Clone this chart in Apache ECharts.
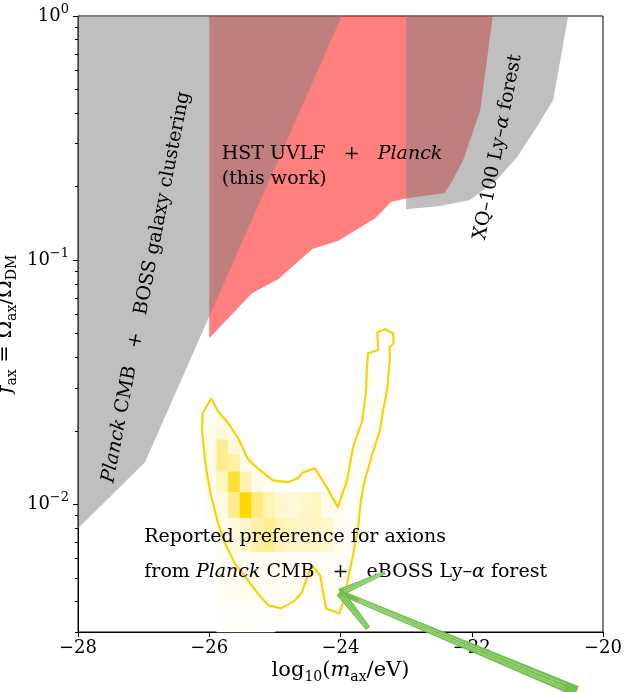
<!DOCTYPE html>
<html><head><meta charset="utf-8">
<script src="https://cdn.jsdelivr.net/npm/echarts@6/dist/echarts.min.js"></script>
<style>html,body{margin:0;padding:0;background:#fff}#c{width:624px;height:692px}</style>
</head><body><div id="c"></div>
<script>
// ---------------- data ----------------
// Planck CMB + BOSS galaxy clustering exclusion (log10 m, f)
const bossM = [-28, -23.98, -26.98, -28];
const bossF = [1, 1, 0.01486, 0.00797];
// HST UVLF + Planck exclusion (this work)
const hstM = [-26.0, -26.0, -25.35, -24.95, -24.43, -24.04, -23.47, -23.23, -22.99, -22.41, -22.29, -22.13, -21.87, -21.68];
const hstF = [1, 0.0479, 0.07325, 0.08359, 0.1110, 0.1197, 0.1486, 0.1729, 0.1795, 0.1882, 0.2128, 0.2570, 0.4119, 1];
// XQ-100 Ly-alpha forest exclusion
const xqM = [-23.0, -23.0, -22.48, -22.03, -21.62, -21.31, -21.01, -20.76, -20.53];
const xqF = [1, 0.1618, 0.1665, 0.1762, 0.2128, 0.2643, 0.3508, 0.4527, 1];
// preferred region contour (Planck CMB + eBOSS Ly-alpha)
const contourM = [-25.97, -25.87, -25.71, -25.56, -25.41, -25.26, -25.03, -24.80, -24.65, -24.57, -24.39, -24.21, -24.04,
  -23.90, -23.81, -23.67, -23.61, -23.60, -23.58, -23.43, -23.43, -23.44, -23.32, -23.20, -23.19, -23.25, -23.25,
  -23.29, -23.35, -23.40, -23.52, -23.63, -23.69, -23.73, -23.81, -23.89, -23.95, -24.02, -24.22, -24.31, -24.42,
  -24.48, -24.59, -24.71, -24.91, -25.10, -25.26, -25.41, -25.61, -25.76, -25.88, -25.99, -26.06, -26.11, -26.10, -25.97];
const contourF = [0.02719, 0.02404, 0.02148, 0.01865, 0.01529, 0.01404, 0.01254, 0.01231, 0.01278, 0.01352, 0.01404, 0.01174, 0.009721,
  0.01254, 0.01713, 0.02189, 0.02933, 0.03540, 0.04158, 0.04277, 0.04568, 0.05068, 0.05214, 0.05022, 0.04568, 0.04399, 0.03892,
  0.02933, 0.02427, 0.02010, 0.01588, 0.01254, 0.01038, 0.008044, 0.006180, 0.004882, 0.004043, 0.003575, 0.003748, 0.005117, 0.005569,
  0.005262, 0.004357, 0.004004, 0.003748, 0.003856, 0.004316, 0.004882, 0.005730, 0.006923, 0.008598, 0.01142, 0.01472, 0.02010, 0.02360, 0.02719];
// 2D histogram bins: log10 m from heatM0 step heatDM, f from heatF0 step heatDF
const heatM0 = -25.887, heatDM = 0.1778;
const heatF0 = 0.00638, heatDF = 0.0024;
// [column, row, density]
const heatCells = [
  [-1,6,0.05],[0,6,0.08],
  [-1,5,0.10],[0,5,0.15],[1,5,0.05],
  [-1,4,0.08],[0,4,0.45],[1,4,0.15],
  [-1,3,0.10],[0,3,0.45],[1,3,0.35],[2,3,0.08],
  [-1,2,0.08],[0,2,0.25],[1,2,0.80],[2,2,0.30],[3,2,0.10],[4,2,0.05],[11,2,0.04],
  [-1,1,0.04],[0,1,0.12],[1,1,0.45],[2,1,1.00],[3,1,0.50],[4,1,0.30],[5,1,0.20],[6,1,0.15],[7,1,0.20],[8,1,0.25],[9,1,0.08],[10,1,0.05],
  [0,0,0.06],[1,0,0.12],[2,0,0.20],[3,0,0.35],[4,0,0.45],[5,0,0.30],[6,0,0.25],[7,0,0.22],[8,0,0.25],[9,0,0.20],[10,0,0.06],[11,0,0.04],
  [0,-1,0.04],[1,-1,0.06],[2,-1,0.06],[3,-1,0.06],[4,-1,0.05],[5,-1,0.04],[6,-1,0.04],[7,-1,0.04],[8,-1,0.04],[9,-1,0.04],[10,-1,0.04],[11,-1,0.03],
  [0,-2,0.02],[1,-2,0.03],[2,-2,0.03],[3,-2,0.02],[4,-2,0.02],
  [12,3,0.04],[12,4,0.05],[13,7,0.06],[13,8,0.05],[13,10,0.06],[13,11,0.04]
];
// arrow: tip and stroke ends
const arrowTipM = -24.01, arrowTipF = 0.004357;
const arrowEndM = [-20.40, -23.32, -23.58];
const arrowEndF = [0.001713, 0.005262, 0.003102];
// text annotations
const annotM = [-26.96, -25.81, -26.99, -21.60];
const annotF = [0.0775, 0.3074, 0.00864, 0.2904];
const annotText = [
  '{i|Planck} CMB   +   BOSS galaxy clustering',
  'HST UVLF   +   {i|Planck}\n(this work)',
  'Reported preference for axions\nfrom {i|Planck} CMB   +   eBOSS Ly\u2013{i|\u03b1} forest',
  'XQ\u2013100 Ly\u2013{i|\u03b1} forest'
];
const yMajor = [0.01, 0.1, 1];
const yMinor = [0.003,0.004,0.005,0.006,0.007,0.008,0.009,0.02,0.03,0.04,0.05,0.06,0.07,0.08,0.09,0.2,0.3,0.4,0.5,0.6,0.7,0.8,0.9];

// ---------------- styling ----------------
const FONT = 'DejaVu Serif';
const FS = 19;
const annotStyle = [
  {rot: 79, align: 'center', va: 'middle', lh: 24},
  {rot: 0, align: 'left', va: 'top', lh: 25},
  {rot: 0, align: 'left', va: 'top', lh: 35},
  {rot: 79, align: 'center', va: 'middle', lh: 24}
];
const arrowWidth = [[2.5, 5.5], [3.8, 1.6], [4.2, 2.6]];

function richSet(base, lh, sub) {
  lh = lh || 26;
  sub = sub || 13;
  return {
    n: {fontFamily: FONT, fontSize: base, color: '#000', lineHeight: lh},
    i: {fontFamily: FONT, fontSize: base, fontStyle: 'italic', color: '#000', lineHeight: lh},
    s: {fontFamily: FONT, fontSize: sub, color: '#000', verticalAlign: 'bottom', lineHeight: sub + 3},
    sup: {fontFamily: FONT, fontSize: sub, color: '#000', verticalAlign: 'top', lineHeight: sub + 1}
  };
}
function heatColor(v) {
  const g = Math.round(255 - v * 40), b = Math.round(255 - v * 255);
  return 'rgb(255,' + g + ',' + b + ')';
}
function polySeries(M, F, fill, opacity) {
  return {
    type: 'custom', silent: true, clip: true,
    data: M.map((m, i) => [m, F[i]]),
    renderItem: (params, api) => {
      if (params.dataIndex !== 0) return null;
      return {type: 'polygon', shape: {points: M.map((m, i) => api.coord([m, F[i]]))},
        style: {fill: fill, opacity: opacity}};
    }
  };
}

const chart = echarts.init(document.getElementById('c'), null, {renderer: 'canvas'});
const option = {
  animation: false,
  backgroundColor: '#fff',
  grid: {left: 78, right: 21, top: 16, bottom: 60, show: true, borderColor: '#000', borderWidth: 1,
    backgroundColor: 'transparent', containLabel: false, outerBoundsMode: 'none'},
  xAxis: {
    type: 'value', min: -28, max: -20, interval: 2,
    axisLine: {show: true, onZero: false, lineStyle: {color: '#000', width: 1}},
    axisTick: {show: true, length: 5, lineStyle: {color: '#000'}},
    axisLabel: {color: '#000', fontFamily: FONT, fontSize: 18, margin: 7,
      formatter: v => (v < 0 ? '\u2212' : '') + Math.abs(v)},
    splitLine: {show: false},
    name: '{n|log}{s|10}{n|(}{i|m}{s|ax}{n|/eV)}',
    nameLocation: 'middle', nameGap: 25, nameMoveOverlap: false,
    nameTextStyle: {rich: richSet(21, 27, 14)}
  },
  yAxis: [{
    type: 'log', logBase: 10, min: 0.003, max: 1,
    axisLine: {show: true, onZero: false, lineStyle: {color: '#000', width: 1}},
    axisTick: {show: true, length: 5, customValues: yMajor, lineStyle: {color: '#000'}},
    axisLabel: {color: '#000', fontFamily: FONT, fontSize: 18, margin: 9, customValues: yMajor,
      rich: richSet(18),
      formatter: v => {
        const e = Math.round(Math.log10(v));
        if (Math.abs(v - Math.pow(10, e)) > 1e-9 * Math.pow(10, e)) return '';
        return '{n|10}{sup|' + (e < 0 ? '\u2212' + (-e) : e) + '}';
      }},
    splitLine: {show: false},
    name: '{i|f}{s|ax}{n| = \u03a9}{s|ax}{n|/\u03a9}{s|DM}',
    nameLocation: 'middle', nameRotate: 90, nameGap: 59, nameMoveOverlap: false,
    nameTextStyle: {rich: richSet(21, 27, 14)}
  }, {
    type: 'log', logBase: 10, min: 0.003, max: 1, position: 'left',
    axisLine: {show: false},
    axisTick: {show: true, length: 3, customValues: yMinor, lineStyle: {color: '#000'}},
    axisLabel: {show: false},
    splitLine: {show: false}
  }],
  series: [
    {
      type: 'custom', silent: true,
      data: heatCells.map(c => [heatM0 + c[0] * heatDM, heatF0 + c[1] * heatDF, c[2]]),
      renderItem: (params, api) => {
        const m = api.value(0), f = api.value(1), v = api.value(2);
        const p0 = api.coord([m, f]);
        const p1 = api.coord([m + heatDM, f + heatDF]);
        const cs = params.coordSys;
        const yb = Math.min(p0[1], cs.y + cs.height);
        const col = heatColor(v);
        return {type: 'rect', shape: {x: p0[0], y: p1[1], width: p1[0] - p0[0], height: yb - p1[1]},
          style: {fill: col, stroke: col, lineWidth: 0.5}};
      }
    },
    {
      type: 'custom', silent: true,
      data: contourM.map((m, i) => [m, contourF[i]]),
      renderItem: (params, api) => {
        if (params.dataIndex !== 0) return null;
        return {type: 'polyline', shape: {points: contourM.map((m, i) => api.coord([m, contourF[i]]))},
          style: {stroke: '#ffd000', lineWidth: 2.2, fill: null, lineJoin: 'round'}};
      }
    },
    polySeries(hstM, hstF, '#ff0000', 0.5),
    polySeries(bossM, bossF, '#808080', 0.5),
    polySeries(xqM, xqF, '#808080', 0.5),
    {
      type: 'custom', silent: true,
      data: annotM.map((m, i) => [m, annotF[i]]),
      renderItem: (params, api) => {
        const i = params.dataIndex, s = annotStyle[i];
        const p = api.coord([api.value(0), api.value(1)]);
        const rich = richSet(FS, s.lh);
        return {type: 'text', x: p[0], y: p[1], rotation: s.rot * Math.PI / 180,
          style: {text: annotText[i].split('\n').map(l => l.replace(/(^|\})([^{}]+)(?=\{|$)/g, (a, b, c) => b + '{n|' + c + '}')).join('\n'),
            align: s.align, verticalAlign: s.va, fontFamily: FONT, fontSize: FS, fill: '#000',
            lineHeight: s.lh, rich: rich}};
      }
    },
    {
      type: 'custom', silent: true, clip: false,
      data: arrowEndM.map((m, i) => [m, arrowEndF[i]]),
      renderItem: (params, api) => {
        const i = params.dataIndex;
        const a = api.coord([arrowTipM, arrowTipF]);
        const b = api.coord([api.value(0), api.value(1)]);
        const dx = b[0] - a[0], dy = b[1] - a[1], L = Math.hypot(dx, dy);
        const nx = -dy / L, ny = dx / L;
        const w0 = arrowWidth[i][0], w1 = arrowWidth[i][1];
        const pts = [[a[0] + nx * w0, a[1] + ny * w0], [b[0] + nx * w1, b[1] + ny * w1],
          [b[0] - nx * w1, b[1] - ny * w1], [a[0] - nx * w0, a[1] - ny * w0]];
        const children = [{type: 'polygon', shape: {points: pts}, style: {fill: '#6cbd45', opacity: 0.95}}];
        [-0.45, 0.1, 0.5].forEach(t => {
          children.push({type: 'line', shape: {x1: a[0] + nx * w0 * t + dx * 0.08, y1: a[1] + ny * w0 * t + dy * 0.08,
            x2: b[0] + nx * w1 * t - dx * 0.05, y2: b[1] + ny * w1 * t - dy * 0.05},
            style: {stroke: '#c6e8b2', lineWidth: 0.7, opacity: 0.8}});
        });
        return {type: 'group', children: children};
      }
    }
  ]
};
chart.setOption(option);
</script>
</body></html>
